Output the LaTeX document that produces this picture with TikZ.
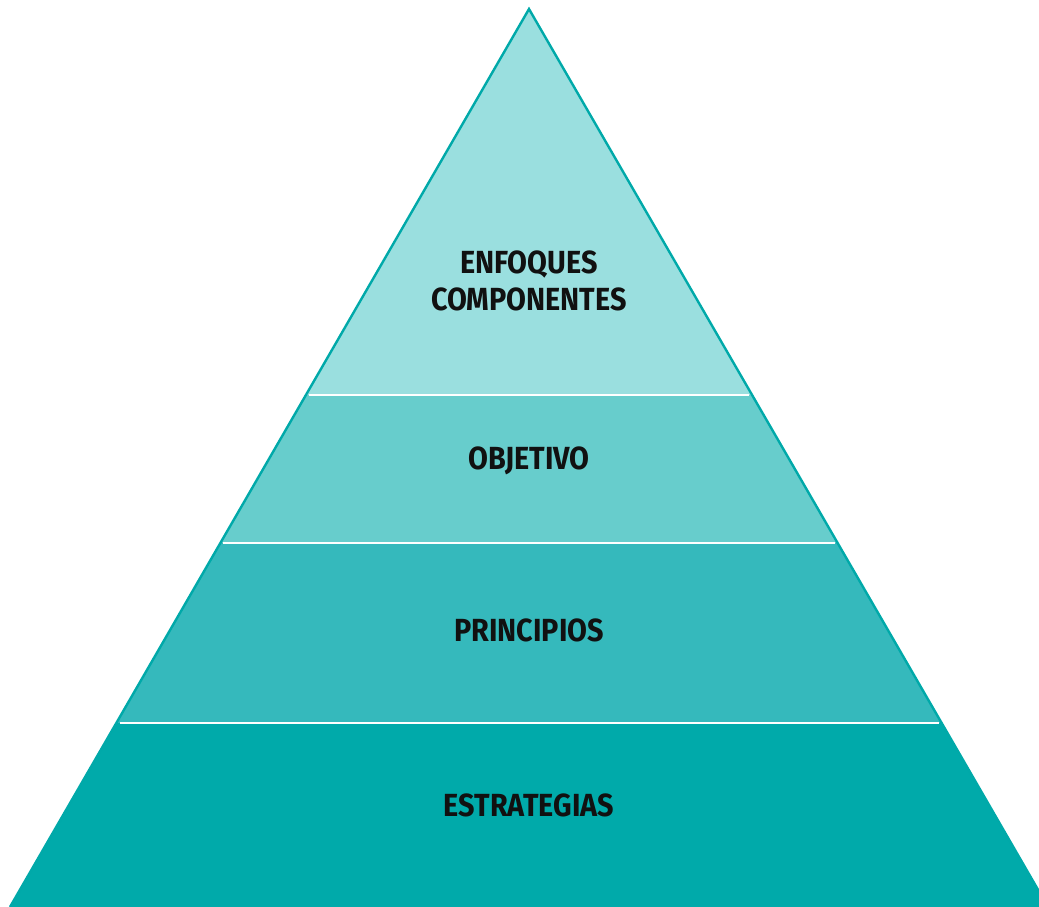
\documentclass[tikz,border=0pt]{standalone}
\usepackage{fontspec}
\setmainfont{Fira Sans}[FakeStretch=0.9]
\definecolor{bandA}{HTML}{9ADFDF}
\definecolor{bandB}{HTML}{67CDCC}
\definecolor{bandC}{HTML}{35B9BC}
\definecolor{bandD}{HTML}{00AAAA}
\definecolor{edge}{HTML}{00A9A9}
\definecolor{ink}{HTML}{111111}
\tikzset{
  label/.style={font=\fontsize{32}{37}\selectfont\bfseries, text=ink, align=center, inner sep=0pt},
  sep/.style={draw=white, line width=2.2pt}
}
\begin{document}
\begin{tikzpicture}[x=1pt,y=-1pt]
\useasboundingbox (0,0) rectangle (1039,907);
\clip (0,0) rectangle (1039,907);
\coordinate (apex) at (529,9);
\coordinate (bl) at (10,907);
\coordinate (br) at (1048,907);
\begin{scope}
  \clip (apex) -- (bl) -- (br) -- cycle;
  \fill[bandA] (0,0) rectangle (1100,395);
  \fill[bandB] (0,395) rectangle (1100,543);
  \fill[bandC] (0,543) rectangle (1100,723);
  \fill[bandD] (0,723) rectangle (1100,920);
\end{scope}
\draw[edge, line width=2.4pt, line join=miter] (bl) -- (apex) -- (br);
\draw[sep] (309,395) -- (749,395);
\draw[sep] (223,543) -- (835,543);
\draw[sep] (120,723) -- (939,723);
\node[label] (t1) at (529,281) {ENFOQUES\\COMPONENTES};
\node[label] (t2) at (529,461) {OBJETIVO};
\node[label] (t3) at (529,630) {PRINCIPIOS};
\node[label] (t4) at (529,805) {ESTRATEGIAS};
\end{tikzpicture}
\end{document}
